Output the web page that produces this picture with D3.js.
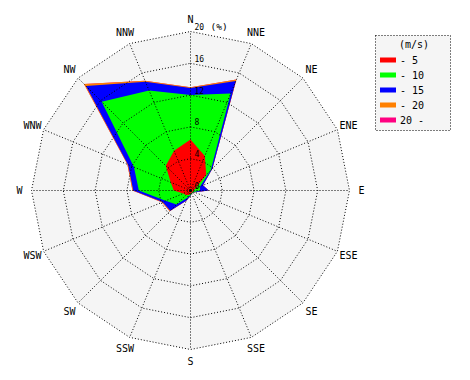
<!DOCTYPE html>
<html><head><meta charset="utf-8">
<script src="https://cdn.jsdelivr.net/npm/d3@7"></script>
<style>body{margin:0;background:#fff}svg{display:block}</style>
</head><body>
<script>
const directions = ["N","NNE","NE","ENE","E","ESE","SE","SSE","S","SSW","SW","WSW","W","WNW","NW","NNW"];
const speedBins = ["- 5","- 10","- 15","- 20","20 -"];
const binColors = ["#ff0000","#00ff00","#0000ff","#ff8000","#ff0080"];
// percentage frequency per speed bin per direction
const bin5   = [6.4,4.7,2.8,0.7,0.4,0.3,0.3,0.3,0.4,0.6,0.8,1.0,2.1,2.7,4.4,5.4];
const bin10  = [5.6,8.5,0.8,0.6,0.8,0.2,0.1,0.1,0.2,0.4,1.7,2.4,4.4,5.0,11.4,8.2];
const bin15  = [0.9,1.7,0.3,0.4,1.1,0.1,0.0,0.0,0.1,0.4,1.1,0.4,0.7,0.8,2.8,1.2];
const bin20  = [0.1,0.2,0.0,0.0,0.0,0.0,0.0,0.0,0.0,0.0,0.1,0.1,0.1,0.1,0.35,0.15];
const bin20p = [0,0,0,0,0,0,0,0,0,0,0,0,0,0,0,0];
const ringTicks = [0,4,8,12,16,20];

const W = 470, H = 380, cx = 190.5, cy = 190.5, R = 159;
const svg = d3.select("body").append("svg").attr("width", W).attr("height", H);
const g = svg.append("g").attr("transform", `translate(${cx},${cy})`);
const r = d3.scaleLinear().domain([0, 20]).range([0, R]);
const ang = d3.scalePoint().domain(directions).range([0, 2 * Math.PI * 15 / 16]);
const font = "'DejaVu Sans Mono', monospace";

const poly = d3.lineRadial().angle((d, i) => ang(directions[i])).radius(d => r(d)).curve(d3.curveLinearClosed);

// background
g.append("path").attr("d", poly(directions.map(() => 20))).attr("fill", "#f5f5f5");

// cumulative stacks
const bins = [bin5, bin10, bin15, bin20, bin20p];
const cum = [];
bins.forEach((b, k) => cum.push(b.map((v, i) => v + (k ? cum[k - 1][i] : 0))));
for (let k = cum.length - 1; k >= 0; k--) {
  g.append("path").attr("d", poly(cum[k])).attr("fill", binColors[k]);
}

// grid rings
ringTicks.filter(t => t > 0).forEach(t => {
  g.append("path").attr("d", poly(directions.map(() => t)))
    .attr("fill", "none").attr("stroke", "#000").attr("stroke-width", 1).attr("stroke-dasharray", "1,2");
});
// spokes
directions.forEach(d => {
  const a = ang(d);
  g.append("line").attr("x1", 0).attr("y1", 0)
    .attr("x2", r(20) * Math.sin(a)).attr("y2", -r(20) * Math.cos(a))
    .attr("stroke", "#000").attr("stroke-width", 1).attr("stroke-dasharray", "1,2");
});
g.append("circle").attr("r", 1.5).attr("fill", "#000");

// ring labels
ringTicks.forEach(t => {
  g.append("text").attr("x", 4).attr("y", -r(t) - 1.5)
    .attr("font-family", font).attr("font-size", 8).attr("fill", "#000").text(t);
});
g.append("text").attr("x", 20).attr("y", -r(20) - 1.5)
  .attr("font-family", font).attr("font-size", 9.5).attr("fill", "#000").text("(%)");

// direction labels
directions.forEach(d => {
  const a = ang(d), rr = 171;
  g.append("text").attr("x", rr * Math.sin(a)).attr("y", -rr * Math.cos(a))
    .attr("text-anchor", "middle").attr("dominant-baseline", "central")
    .attr("font-family", font).attr("font-size", 10).attr("fill", "#000").text(d);
});

// legend
const lg = svg.append("g");
lg.append("rect").attr("x", 375.5).attr("y", 35.5).attr("width", 75).attr("height", 95)
  .attr("fill", "#f5f5f5").attr("stroke", "#000").attr("stroke-dasharray", "1,2");
lg.append("text").attr("x", 414).attr("y", 44).attr("text-anchor", "middle").attr("dominant-baseline", "central")
  .attr("font-family", font).attr("font-size", 10).text("(m/s)");
const ly = d3.scalePoint().domain(speedBins).range([60, 120]);
speedBins.forEach((s, k) => {
  lg.append("rect").attr("x", 380).attr("y", ly(s) - 2.5).attr("width", 16).attr("height", 5).attr("fill", binColors[k]);
  lg.append("text").attr("x", 400).attr("y", ly(s)).attr("dominant-baseline", "central")
    .attr("font-family", font).attr("font-size", 10).text(s);
});
</script>
</body></html>
